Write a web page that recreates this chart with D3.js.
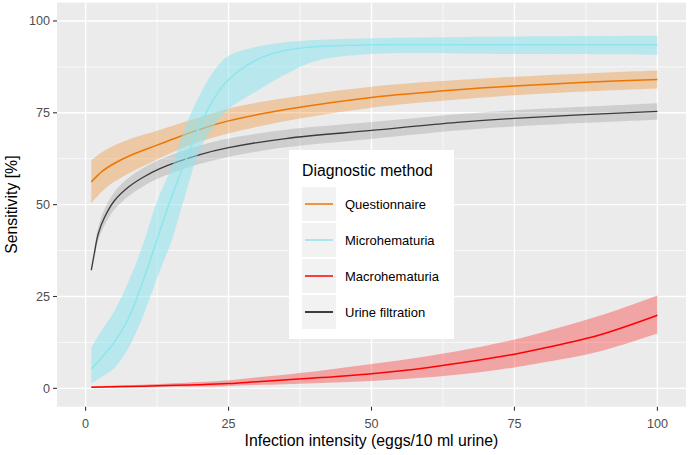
<!DOCTYPE html>
<html lang="en">
<head>
    <meta charset="UTF-8">
    <title>Sensitivity by infection intensity</title>
    <script src="https://d3js.org/d3.v7.min.js"></script>
    <style>
        body { margin: 0; background: #fff; }
        text { font-family: "Liberation Sans", Arial, sans-serif; }
        .tick-label { font-size: 12.6px; fill: #4d4d4d; }
        .axis-title { font-size: 15.8px; fill: #000; }
        .legend-label { font-size: 13px; fill: #000; }
    </style>
</head>
<body>
    <script>
        // Values
        const xTicks = [0, 25, 50, 75, 100];
        const yTicks = [0, 25, 50, 75, 100];

        const questX = [1, 3, 5, 8, 12.5, 16, 20, 25, 35, 50, 65, 75, 87.5, 100];
        const questMid = [56.2, 59.2, 61.2, 63.5, 66.2, 68.3, 70.5, 72.8, 75.9, 79.2, 81.3, 82.3, 83.3, 84.1];
        const questLo = [50.4, 53.8, 56.2, 58.9, 62.3, 64.8, 67.2, 69.4, 72.8, 76.4, 78.6, 79.8, 80.8, 81.6];
        const questHi = [62.1, 64.4, 66.1, 68, 70.1, 71.9, 73.8, 76.2, 79, 82.1, 83.9, 84.8, 85.7, 86.5];

        const microX = [1, 2.5, 5, 7.5, 10, 12.5, 15, 17.5, 20, 22.5, 25, 30, 35, 40, 50, 75, 100];
        const microMid = [5.3, 7.8, 12.5, 19, 29, 40.5, 52, 62, 71.5, 79, 84, 89.5, 92, 93, 93.5, 93.5, 93.5];
        const microLo = [1.3, 2.8, 5.5, 11, 19.5, 30, 40, 53, 65, 71.5, 76, 81, 85.5, 89, 91, 91, 90.8];
        const microHi = [11.2, 15, 21, 29, 39, 51, 60, 71.5, 80, 86.5, 90.5, 93, 94.2, 94.8, 95.3, 95.8, 96];

        const macroX = [1, 10, 20, 25, 30, 40, 50, 60, 70, 75, 80, 90, 100];
        const macroMid = [0.3, 0.6, 1.0, 1.3, 1.8, 2.8, 4.0, 5.7, 8.0, 9.3, 10.9, 14.6, 19.9];
        const macroLo = [0.1, 0.3, 0.5, 0.6, 0.9, 1.4, 2.0, 3.0, 4.6, 5.7, 7.0, 10.1, 14.9];
        const macroHi = [0.6, 1.0, 1.7, 2.2, 3.0, 4.6, 6.6, 8.8, 11.6, 13.3, 15.3, 19.8, 25.3];

        const filtX = [1, 1.5, 2.2, 3.3, 5, 7.5, 10, 13, 20, 25, 35, 50, 65, 75, 100];
        const filtMid = [32.2, 36.5, 42, 46.5, 51, 54.8, 57.4, 59.8, 63.6, 65.5, 68, 70.2, 72.4, 73.5, 75.4];
        const filtLo = [31.6, 35.2, 40.2, 44.3, 48.6, 52.3, 54.9, 57.3, 61.1, 63, 65.6, 67.9, 70.2, 71.3, 73.1];
        const filtHi = [32.8, 37.8, 43.8, 48.7, 53.4, 57.3, 59.9, 62.3, 66.1, 68, 70.4, 72.5, 74.6, 75.7, 77.6];

        const legendNames = ["Questionnaire", "Microhematuria", "Macrohematuria", "Urine filtration"];
        const lineColors = ["#ee7600", "#8ee5ee", "#ff0000", "#000000"];

        const series = [
            { x: filtX, mid: filtMid, lo: filtLo, hi: filtHi, color: "#000000", fillOp: 0.12, lineColor: "#3a3a3a", lw: 1.3 },
            { x: questX, mid: questMid, lo: questLo, hi: questHi, color: "#ee7600", fillOp: 0.3, lineColor: "#ee7600", lw: 1.5 },
            { x: macroX, mid: macroMid, lo: macroLo, hi: macroHi, color: "#ff0000", fillOp: 0.3, lineColor: "#ff0000", lw: 1.5 },
            { x: microX, mid: microMid, lo: microLo, hi: microHi, color: "#8ee5ee", fillOp: 0.55, lineColor: "#8ee5ee", lw: 1.5 }
        ];

        const width = 690, height = 455;
        const panel = { left: 57, right: 686, top: 2.6, bottom: 406.7 };

        const svg = d3.select("body").append("svg")
            .attr("width", width)
            .attr("height", height);

        const x = d3.scaleLinear().domain([-5, 105]).range([panel.left, panel.right]);
        const y = d3.scaleLinear().domain([-5, 105]).range([panel.bottom, panel.top]);

        // panel background + grid
        svg.append("rect")
            .attr("x", panel.left).attr("y", panel.top)
            .attr("width", panel.right - panel.left)
            .attr("height", panel.bottom - panel.top)
            .attr("fill", "#ebebeb");

        const minor = [12.5, 37.5, 62.5, 87.5];
        const grid = svg.append("g");
        minor.forEach(v => {
            grid.append("line").attr("x1", x(v)).attr("x2", x(v))
                .attr("y1", panel.top).attr("y2", panel.bottom)
                .attr("stroke", "#fff").attr("stroke-width", 0.7);
            grid.append("line").attr("y1", y(v)).attr("y2", y(v))
                .attr("x1", panel.left).attr("x2", panel.right)
                .attr("stroke", "#fff").attr("stroke-width", 0.7);
        });
        xTicks.forEach(v => {
            grid.append("line").attr("x1", x(v)).attr("x2", x(v))
                .attr("y1", panel.top).attr("y2", panel.bottom)
                .attr("stroke", "#fff").attr("stroke-width", 1.4);
        });
        yTicks.forEach(v => {
            grid.append("line").attr("y1", y(v)).attr("y2", y(v))
                .attr("x1", panel.left).attr("x2", panel.right)
                .attr("stroke", "#fff").attr("stroke-width", 1.4);
        });

        // ribbons and lines
        const plot = svg.append("g");
        series.forEach(s => {
            const idx = d3.range(s.x.length);
            const area = d3.area()
                .x(i => x(s.x[i]))
                .y0(i => y(s.lo[i]))
                .y1(i => y(s.hi[i]))
                .curve(d3.curveCatmullRom.alpha(0.5));
            const line = d3.line()
                .x(i => x(s.x[i]))
                .y(i => y(s.mid[i]))
                .curve(d3.curveCatmullRom.alpha(0.5));
            plot.append("path").datum(idx)
                .attr("d", area)
                .attr("fill", s.color)
                .attr("fill-opacity", s.fillOp);
            plot.append("path").datum(idx)
                .attr("d", line)
                .attr("fill", "none")
                .attr("stroke", s.lineColor)
                .attr("stroke-width", s.lw);
        });

        // axes
        const xAxis = svg.append("g");
        xTicks.forEach(v => {
            xAxis.append("line").attr("x1", x(v)).attr("x2", x(v))
                .attr("y1", panel.bottom).attr("y2", panel.bottom + 4)
                .attr("stroke", "#333").attr("stroke-width", 1.1);
            xAxis.append("text").attr("class", "tick-label")
                .attr("x", x(v)).attr("y", 428)
                .attr("text-anchor", "middle")
                .text(v);
        });
        const yAxis = svg.append("g");
        yTicks.forEach(v => {
            yAxis.append("line").attr("x1", panel.left - 4).attr("x2", panel.left)
                .attr("y1", y(v)).attr("y2", y(v))
                .attr("stroke", "#333").attr("stroke-width", 1.1);
            yAxis.append("text").attr("class", "tick-label")
                .attr("x", panel.left - 7).attr("y", y(v))
                .attr("dy", "0.35em")
                .attr("text-anchor", "end")
                .text(v);
        });

        svg.append("text").attr("class", "axis-title")
            .attr("x", (panel.left + panel.right) / 2).attr("y", 446)
            .attr("text-anchor", "middle")
            .text("Infection intensity (eggs/10 ml urine)");

        svg.append("text").attr("class", "axis-title")
            .attr("transform", `translate(17,${(panel.top + panel.bottom) / 2}) rotate(-90)`)
            .attr("text-anchor", "middle")
            .text("Sensitivity [%]");

        // legend
        const legend = svg.append("g").attr("transform", "translate(289,150)");
        legend.append("rect")
            .attr("width", 165).attr("height", 189)
            .attr("fill", "#fff");
        legend.append("text").attr("class", "axis-title")
            .attr("x", 13).attr("y", 26)
            .text("Diagnostic method");
        legendNames.forEach((name, i) => {
            const g = legend.append("g").attr("transform", `translate(13,${37 + i * 36})`);
            g.append("rect").attr("width", 34).attr("height", 34).attr("fill", "#f2f2f2");
            g.append("line").attr("x1", 3).attr("x2", 31)
                .attr("y1", 17).attr("y2", 17)
                .attr("stroke", lineColors[i]).attr("stroke-width", 1.5);
            g.append("text").attr("class", "legend-label")
                .attr("x", 43).attr("y", 17).attr("dy", "0.35em")
                .text(name);
        });
    </script>
</body>
</html>
